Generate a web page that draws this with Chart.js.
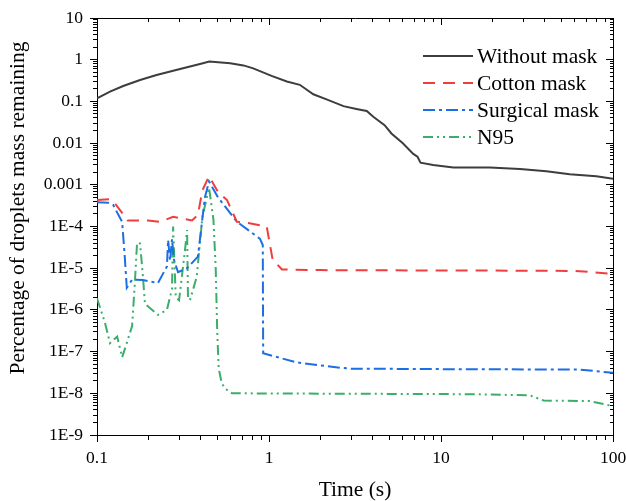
<!DOCTYPE html>
<html lang="en">
<head>
<meta charset="UTF-8">
<title>Droplets mass remaining</title>
<style>
    html, body { margin: 0; padding: 0; background: #fff; }
    #chartBox { width: 626px; height: 501px; }
</style>
</head>
<body>
<div id="chartBox"><canvas id="massChart" width="626" height="501"></canvas></div>

<script src="https://cdn.jsdelivr.net/npm/chart.js"></script>
<script>
// ---- data ----
var seriesNames = ['Without mask', 'Cotton mask', 'Surgical mask', 'N95'];

var noMaskTime = [0.1, 0.119, 0.142, 0.178, 0.222, 0.304, 0.397, 0.45, 0.595, 0.71, 0.81, 1.035, 1.27, 1.51, 1.81, 2.16, 2.71, 3.22, 3.7, 4.04, 4.7, 5.15, 6.0, 6.9, 7.3, 7.6, 9.0, 11.8, 19.2, 28.8, 41, 56, 80, 100];
var noMaskMass = [0.119, 0.171, 0.234, 0.326, 0.43, 0.60, 0.79, 0.90, 0.82, 0.73, 0.62, 0.41, 0.30, 0.25, 0.148, 0.112, 0.077, 0.066, 0.059, 0.043, 0.027, 0.017, 0.0099, 0.0055, 0.0047, 0.0034, 0.0030, 0.0026, 0.0026, 0.0024, 0.0021, 0.0018, 0.0016, 0.0014];

var cottonTime = [0.1, 0.119, 0.127, 0.151, 0.198, 0.232, 0.277, 0.357, 0.386, 0.41, 0.448, 0.505, 0.57, 0.65, 0.77, 0.97, 1.05, 1.19, 2, 10, 40, 64, 100];
var cottonMass = [4.3e-4, 4.5e-4, 3.6e-4, 1.4e-4, 1.4e-4, 1.3e-4, 1.7e-4, 1.4e-4, 1.9e-4, 7.4e-4, 1.6e-3, 6.8e-4, 4.3e-4, 1.3e-4, 1.2e-4, 1.0e-4, 1.6e-5, 9.3e-6, 9.0e-6, 8.8e-6, 8.7e-6, 8.5e-6, 7.3e-6];

var surgicalTime = [0.1, 0.116, 0.124, 0.14, 0.145, 0.149, 0.16, 0.185, 0.226, 0.255, 0.259, 0.266, 0.273, 0.28, 0.296, 0.334, 0.386, 0.424, 0.448, 0.505, 0.65, 0.885, 0.92, 0.925, 1.45, 2.58, 3, 10, 64, 100];
var surgicalMass = [3.8e-4, 3.7e-4, 3.3e-4, 1.3e-4, 1.9e-5, 3.4e-6, 5.3e-6, 5.2e-6, 4.4e-6, 1.1e-5, 4.8e-5, 1.5e-5, 5.0e-5, 1.6e-5, 8.0e-6, 1.0e-5, 1.9e-5, 5.0e-4, 1.2e-3, 5.0e-4, 1.3e-4, 5.1e-5, 3.6e-5, 9.1e-8, 5.5e-8, 4.1e-8, 3.9e-8, 3.8e-8, 3.7e-8, 3.1e-8];

var n95Time = [0.1, 0.111, 0.119, 0.131, 0.14, 0.149, 0.16, 0.166, 0.171, 0.178, 0.185, 0.19, 0.226, 0.255, 0.273, 0.277, 0.287, 0.30, 0.325, 0.334, 0.338, 0.347, 0.38, 0.41, 0.448, 0.475, 0.49, 0.50, 0.51, 0.53, 0.555, 0.61, 16, 32.9, 39.5, 73, 94.5, 100];
var n95Mass = [1.9e-6, 5.1e-7, 1.6e-7, 2.3e-7, 7.3e-8, 1.6e-7, 4.1e-7, 4.5e-6, 4.1e-5, 3.9e-5, 6.2e-6, 1.4e-6, 7.6e-7, 1.0e-6, 3.2e-6, 1.0e-4, 2.0e-6, 1.7e-6, 2.8e-5, 8.2e-5, 2.0e-6, 1.7e-6, 6.2e-6, 1.7e-4, 8.5e-4, 1.5e-4, 1.0e-5, 3.0e-7, 4.0e-8, 1.8e-8, 1.3e-8, 1.0e-8, 9.5e-9, 8.9e-9, 6.7e-9, 6.5e-9, 5.2e-9, 5.0e-9];

// ---- axis ticks ----
var xMajorTicks = [0.1, 1, 10, 100];
var xTickLabels = ['0.1', '1', '10', '100'];
var yMajorTicks = [1e-9, 1e-8, 1e-7, 1e-6, 1e-5, 1e-4, 0.001, 0.01, 0.1, 1, 10];
var yTickLabels = ['1E-9', '1E-8', '1E-7', '1E-6', '1E-5', '1E-4', '0.001', '0.01', '0.1', '1', '10'];
var minorSteps = [2, 3, 4, 5, 6, 7, 8, 9];

var FONT = '"Liberation Serif", "Times New Roman", serif';

function pairs(xs, ys) {
    return xs.map(function (x, i) { return { x: x, y: ys[i] }; });
}

// major ticks plus 2..9 minor ticks in every decade
function logTicks(majors) {
    var out = [];
    majors.forEach(function (m, i) {
        out.push({ value: m, major: true });
        if (i < majors.length - 1) {
            minorSteps.forEach(function (k) { out.push({ value: m * k, major: false }); });
        }
    });
    return out;
}

function majorIndex(majors, v) {
    for (var i = 0; i < majors.length; i++) {
        if (Math.abs(Math.log10(v) - Math.log10(majors[i])) < 1e-6) return i;
    }
    return -1;
}

// outer end of a tick first -> keep only the 4px next to the axis for minors
function dashFromOuter(majors) {
    return function (c) { return majorIndex(majors, c.tick.value) >= 0 ? [] : [0, 3, 4, 100]; };
}
// axis end of a tick first
function dashFromAxis(majors) {
    return function (c) { return majorIndex(majors, c.tick.value) >= 0 ? [] : [4, 100]; };
}

function logAxis(majors, labels, position, size, showLabels, tickLen, dashFn) {
    var horizontal = position === 'top' || position === 'bottom';
    return {
        type: 'logarithmic',
        position: position,
        min: majors[0],
        max: majors[majors.length - 1],
        afterBuildTicks: function (scale) { scale.ticks = logTicks(majors); },
        afterFit: function (scale) {
            if (horizontal) scale.height = size; else scale.width = size;
            // let the end labels hang over the edges, like the figure
            scale.paddingLeft = 0;
            scale.paddingRight = 0;
            scale.paddingTop = 0;
            scale.paddingBottom = 0;
        },
        border: { display: true, color: '#000', width: 1 },
        grid: {
            drawOnChartArea: false,
            drawTicks: true,
            tickLength: tickLen,
            tickColor: '#000',
            tickWidth: 1,
            tickBorderDash: dashFn(majors)
        },
        ticks: {
            display: showLabels,
            autoSkip: false,
            maxRotation: 0,
            minRotation: 0,
            color: '#000',
            padding: horizontal ? 5.5 : 7,
            font: { family: FONT, size: 17.5 },
            callback: function (value) {
                var i = majorIndex(majors, value);
                return i >= 0 ? labels[i] : '';
            }
        }
    };
}

// legend sits inside the plot, top right
var insideLegend = {
    id: 'insideLegend',
    afterDatasetsDraw: function (chart) {
        var ctx = chart.ctx;
        var x0 = chart.chartArea.right - 190;
        var y0 = chart.chartArea.top + 38;
        chart.data.datasets.forEach(function (ds, i) {
            var y = y0 + i * 27;
            ctx.save();
            ctx.strokeStyle = ds.borderColor;
            ctx.lineWidth = ds.borderWidth;
            ctx.setLineDash(ds.borderDash || []);
            ctx.beginPath();
            ctx.moveTo(x0, y);
            ctx.lineTo(x0 + 50, y);
            ctx.stroke();
            ctx.setLineDash([]);
            ctx.fillStyle = '#000';
            ctx.font = '21.5px ' + FONT;
            ctx.textBaseline = 'middle';
            ctx.textAlign = 'left';
            ctx.fillText(ds.label, x0 + 54, y + 1);
            ctx.restore();
        });
    }
};

// y title is placed a bit above the middle of the axis, as in the figure
var yTitle = {
    id: 'yTitle',
    afterDraw: function (chart) {
        var ctx = chart.ctx;
        ctx.save();
        ctx.translate(18.5, 208);
        ctx.rotate(-Math.PI / 2);
        ctx.fillStyle = '#000';
        ctx.font = '21.5px ' + FONT;
        ctx.textAlign = 'center';
        ctx.textBaseline = 'middle';
        ctx.fillText('Percentage of droplets mass remaining', 0, 0);
        ctx.restore();
    }
};

var xAxis = logAxis(xMajorTicks, xTickLabels, 'bottom', 66, true, 7, dashFromAxis);
xAxis.title = {
    display: true,
    text: 'Time (s)',
    color: '#000',
    font: { family: FONT, size: 21.5, lineHeight: 1 },
    padding: { top: 0, bottom: 0 }
};

var ctx = document.getElementById('massChart').getContext('2d');
var massChart = new Chart(ctx, {
    type: 'line',
    data: {
        datasets: [{
            label: seriesNames[0],
            data: pairs(noMaskTime, noMaskMass),
            borderColor: '#3d3d3d',
            borderWidth: 2,
            borderDash: []
        }, {
            label: seriesNames[1],
            data: pairs(cottonTime, cottonMass),
            borderColor: '#ef3e3e',
            borderWidth: 2,
            borderDash: [12, 8]
        }, {
            label: seriesNames[2],
            data: pairs(surgicalTime, surgicalMass),
            borderColor: '#1c6fe3',
            borderWidth: 2,
            borderDash: [12, 4, 3, 4]
        }, {
            label: seriesNames[3],
            data: pairs(n95Time, n95Mass),
            borderColor: '#3aae6a',
            borderWidth: 2,
            borderDash: [10, 4, 2, 4, 2, 4]
        }]
    },
    options: {
        responsive: false,
        animation: false,
        layout: { padding: 0 },
        elements: {
            point: { radius: 0, hoverRadius: 0 },
            line: { tension: 0, fill: false }
        },
        plugins: {
            legend: { display: false },
            tooltip: { enabled: false }
        },
        scales: {
            x: xAxis,
            x2: logAxis(xMajorTicks, xTickLabels, 'top', 18, false, -7, dashFromOuter),
            y: logAxis(yMajorTicks, yTickLabels, 'left', 97, true, 7, dashFromOuter),
            y2: logAxis(yMajorTicks, yTickLabels, 'right', 13, false, -7, dashFromAxis)
        }
    },
    plugins: [insideLegend, yTitle]
});
</script>
</body>
</html>
